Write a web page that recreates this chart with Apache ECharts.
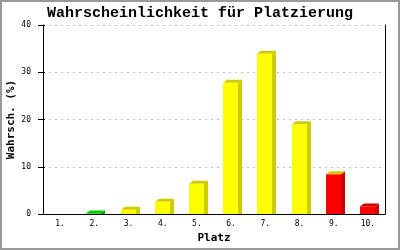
<!DOCTYPE html>
<html>
<head>
<meta charset="utf-8">
<script src="https://cdn.jsdelivr.net/npm/echarts@6/dist/echarts.min.js"></script>
<style>
html,body{margin:0;padding:0;background:#fff;}
#chart{width:400px;height:250px;}
</style>
</head>
<body>
<div id="chart"></div>
<script>
const categories = ['1.', '2.', '3.', '4.', '5.', '6.', '7.', '8.', '9.', '10.'];
const probabilities = [0, 0.1, 0.9, 2.6, 6.4, 27.8, 33.9, 19.0, 8.4, 1.6];
const yTicks = [0, 10, 20, 30, 40];

// style arrays (colours per bar: front, side, top)
const frontColors = ['#ffff00', '#00cc00', '#ffff00', '#ffff00', '#ffff00', '#ffff00', '#ffff00', '#ffff00', '#ff0000', '#ff0000'];
const sideColors  = ['#cccc00', '#009900', '#cccc00', '#cccc00', '#cccc00', '#cccc00', '#cccc00', '#cccc00', '#cc0000', '#cc0000'];
const topColors   = ['#cccc00', '#00cc00', '#cccc00', '#cccc00', '#cccc00', '#cccc00', '#cccc00', '#cccc00', '#cccc00', '#cc0000'];

const chart = echarts.init(document.getElementById('chart'), null, {renderer: 'canvas'});

function renderBar(params, api) {
  const i = params.dataIndex;
  const v = api.value(1);
  if (!(v > 0)) return null;
  const base = api.coord([api.value(0), 0]);
  const top = api.coord([api.value(0), v]);
  const band = api.size([1, 0])[0];
  const w = Math.round(band * 0.44);
  const d = 4, h = 3;
  const x0 = Math.round(base[0]) - 8;
  const yb = base[1];
  const yt = Math.min(top[1], yb);
  return {
    type: 'group',
    children: [
      {type: 'polygon', shape: {points: [[x0 + w, yt], [x0 + w + d, yt - h], [x0 + w + d, yb], [x0 + w, yb]]},
       style: {fill: sideColors[i]}},
      {type: 'polygon', shape: {points: [[x0, yt], [x0 + d, yt - h], [x0 + w + d, yt - h], [x0 + w, yt]]},
       style: {fill: topColors[i]}},
      {type: 'rect', shape: {x: x0, y: yt, width: w, height: yb - yt},
       style: {fill: frontColors[i]}}
    ]
  };
}

chart.setOption({
  animation: false,
  backgroundColor: '#ffffff',
  title: {
    text: 'Wahrscheinlichkeit für Platzierung',
    left: 'center',
    top: 1,
    textStyle: {fontFamily: 'Liberation Mono', fontWeight: 'bold', fontSize: 15, color: '#000'}
  },
  graphic: [{
    type: 'rect', silent: true, z: 100,
    shape: {x: 1, y: 1, width: 398, height: 248},
    style: {fill: 'none', stroke: '#999999', lineWidth: 2}
  }],
  grid: {left: 43, right: 15, top: 25, bottom: 36, containLabel: false, outerBoundsMode: 'none'},
  xAxis: {
    type: 'category',
    data: categories,
    name: 'Platz',
    nameLocation: 'middle',
    nameGap: 19,
    nameMoveOverlap: false,
    nameTextStyle: {fontFamily: 'DejaVu Sans Mono', fontWeight: 'bold', fontSize: 11, color: '#000'},
    axisLine: {show: true, lineStyle: {color: '#000', width: 1}},
    axisTick: {show: false},
    axisLabel: {fontFamily: 'DejaVu Sans Mono', fontSize: 8, color: '#000', margin: 6},
    splitLine: {show: false}
  },
  yAxis: [{
    type: 'value',
    min: yTicks[0],
    max: yTicks[yTicks.length - 1],
    interval: 10,
    name: 'Wahrsch. (%)',
    nameLocation: 'middle',
    nameGap: 26,
    nameMoveOverlap: false,
    nameTextStyle: {fontFamily: 'DejaVu Sans Mono', fontWeight: 'bold', fontSize: 11, color: '#000'},
    axisLine: {show: true, lineStyle: {color: '#000', width: 1}},
    axisTick: {show: true, length: 5, lineStyle: {color: '#000'}},
    axisLabel: {fontFamily: 'DejaVu Sans Mono', fontSize: 8, color: '#000', margin: 12},
    splitLine: {show: true, lineStyle: {color: '#c0c0c0', type: [2, 4], width: 1}}
  }, {
    type: 'value',
    position: 'right',
    min: yTicks[0],
    max: yTicks[yTicks.length - 1],
    interval: 10,
    axisLine: {show: true, lineStyle: {color: '#000', width: 1}},
    axisTick: {show: false},
    axisLabel: {show: false},
    splitLine: {show: false}
  }, {
    type: 'value',
    position: 'left',
    min: yTicks[0],
    max: yTicks[yTicks.length - 1],
    interval: 10,
    axisLine: {show: false},
    axisTick: {show: true, inside: true, length: 2, lineStyle: {color: '#000'}},
    axisLabel: {show: false},
    splitLine: {show: false}
  }],
  series: [{
    type: 'custom',
    renderItem: renderBar,
    data: probabilities.map((v, i) => [i, v]),
    encode: {x: 0, y: 1},
    clip: false
  }]
});
</script>
</body>
</html>
